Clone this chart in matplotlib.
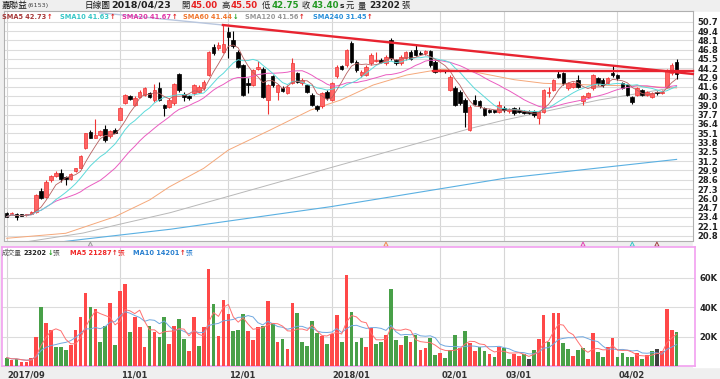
import matplotlib
matplotlib.use("Agg")
import matplotlib.pyplot as plt
from matplotlib.patches import Rectangle
import pandas as pd

plt.rcParams['font.family'] = ['DejaVu Sans', 'Noto Sans CJK TC']

# ---- daily candles 2017/09 .. 2018/04/23 (嘉聯益 6153) ----
opens = [23.9, 23.85, 23.8, 23.75, 23.7, 23.8, 24.1, 27.0, 26.2, 28.5,
         29.1, 29.55, 28.95, 28.7, 29.8, 30.3, 33.0, 35.3, 34.5, 34.9,
         35.65, 34.7, 35.6, 37.0, 39.4, 40.3, 39.1, 40.2, 40.5, 40.7,
         39.7, 41.4, 39.05, 38.8, 39.3, 43.4, 40.6, 40.3, 40.7, 40.9,
         41.4, 43.3, 47.1, 47.0, 46.5, 49.2, 48.1, 46.5, 44.65, 42.2,
         41.85, 44.05, 44.05, 39.8, 43.1, 40.9, 41.5, 40.8, 42.1, 43.5,
         42.1, 41.85, 40.5, 38.9, 38.9, 40.9, 39.8, 43.1, 44.5, 44.6,
         47.7, 45.1, 43.25, 43.25, 44.9, 45.2, 45.4, 44.9, 48.1, 45.35,
         44.9, 45.6, 46.5, 46.8, 46.37, 46.3, 46.65, 45.1, 43.9, 43.9,
         41.15, 41.5, 40.9, 39.8, 35.6, 39.75, 39.66, 38.6, 38.35, 38.3,
         38.1, 38.7, 38.2, 38.6, 38.35, 38.2, 38.2, 38.2, 37.2, 38.1,
         40.7, 41.15, 43.4, 43.5, 41.4, 41.6, 42.55, 39.66, 40.2, 41.4,
         42.8, 42.6, 42.2, 43.5, 43.25, 42.1, 41.85, 40.2, 40.45, 41.15,
         40.45, 40.2, 40.9, 40.7, 41.6, 43.5, 45.0]
highs = [24.05, 24.1, 23.9, 23.85, 23.85, 24.2, 26.6, 27.4, 28.5, 29.3,
         29.85, 30.1, 29.1, 29.5, 30.3, 32.0, 35.2, 35.5, 37.1, 35.5,
         36.2, 35.5, 35.8, 38.8, 40.6, 40.5, 40.3, 41.1, 41.6, 40.9,
         42.0, 42.3, 39.2, 40.0, 42.1, 43.6, 40.9, 40.5, 42.0, 41.8,
         42.5, 46.6, 47.6, 47.9, 50.2, 49.9, 49.4, 46.7, 44.8, 42.8,
         44.1, 45.2, 44.3, 42.0, 43.3, 42.0, 41.7, 41.8, 45.6, 43.7,
         42.8, 42.0, 40.7, 39.1, 40.9, 41.1, 42.3, 44.6, 44.7, 46.9,
         48.0, 45.3, 43.9, 44.6, 46.3, 46.5, 45.6, 46.0, 48.4, 45.5,
         46.0, 46.6, 46.7, 47.4, 46.6, 46.8, 46.8, 45.3, 44.1, 44.0,
         43.2, 41.7, 41.1, 40.0, 39.0, 40.5, 39.8, 38.8, 38.5, 38.4,
         39.6, 38.9, 38.6, 38.8, 38.8, 38.3, 38.3, 38.3, 38.2, 41.3,
         41.6, 42.7, 44.0, 43.7, 42.3, 42.3, 43.2, 40.5, 40.9, 43.4,
         43.0, 42.8, 43.0, 44.6, 43.4, 42.3, 42.0, 40.3, 41.6, 41.3,
         41.0, 40.9, 41.0, 41.1, 44.1, 44.9, 45.5]
lows = [23.35, 23.7, 23.0, 23.5, 23.6, 23.75, 24.0, 25.9, 26.0, 28.3,
        29.0, 28.35, 27.9, 28.6, 29.7, 30.2, 32.9, 34.4, 34.4, 34.7,
        33.9, 34.5, 35.1, 36.9, 39.2, 39.7, 38.9, 40.0, 40.3, 40.0,
        39.5, 39.6, 37.5, 38.6, 39.1, 40.9, 39.6, 39.8, 40.5, 40.7,
        41.2, 43.1, 46.1, 46.8, 46.3, 45.6, 47.0, 44.2, 40.3, 40.7,
        41.7, 43.9, 40.0, 37.8, 41.6, 39.8, 40.9, 40.6, 42.0, 42.1,
        41.9, 40.7, 38.9, 38.2, 38.7, 39.8, 39.6, 42.9, 43.9, 44.4,
        44.9, 43.7, 43.0, 43.1, 44.7, 45.0, 44.9, 44.7, 45.4, 44.7,
        44.7, 45.4, 45.3, 45.9, 46.0, 46.1, 44.4, 43.5, 43.7, 43.6,
        41.0, 38.9, 39.1, 36.0, 35.4, 39.0, 38.7, 37.5, 37.9, 37.9,
        37.9, 38.1, 38.0, 37.7, 37.9, 37.8, 37.8, 37.4, 36.4, 38.0,
        40.2, 41.0, 42.8, 41.9, 41.2, 41.4, 41.4, 39.05, 40.0, 41.2,
        41.9, 41.6, 42.0, 43.0, 42.6, 41.3, 40.3, 39.2, 40.3, 40.3,
        40.3, 40.0, 40.5, 40.6, 41.4, 43.2, 42.75]
closes = [23.45, 23.9, 23.45, 23.6, 23.75, 24.1, 26.5, 26.0, 28.3, 29.1,
          29.6, 28.7, 28.7, 29.4, 30.2, 31.9, 35.1, 34.5, 34.85, 35.4,
          34.1, 35.4, 35.2, 38.7, 40.5, 39.9, 40.1, 40.9, 41.4, 40.2,
          41.2, 39.8, 38.6, 39.8, 42.0, 41.2, 40.15, 40.0, 41.85, 41.6,
          42.3, 46.5, 46.3, 47.4, 47.6, 48.6, 47.3, 44.4, 40.5, 41.85,
          43.95, 44.4, 40.2, 41.85, 41.85, 41.85, 41.06, 41.6, 44.9, 42.3,
          42.5, 40.9, 39.06, 38.45, 40.7, 40.0, 42.1, 44.4, 44.1, 46.75,
          45.1, 43.95, 43.7, 44.4, 46.05, 45.4, 45.1, 45.8, 45.6, 44.9,
          45.8, 46.4, 45.45, 46.05, 46.2, 46.65, 44.65, 43.7, 43.95, 43.85,
          43.0, 39.05, 39.3, 38.1, 38.8, 39.2, 38.9, 37.65, 38.03, 38.1,
          39.05, 38.3, 38.45, 37.9, 38.07, 37.98, 37.98, 37.6, 38.1, 41.15,
          40.9, 42.55, 43.0, 42.1, 42.1, 42.1, 41.6, 40.3, 40.7, 43.25,
          42.1, 41.85, 42.8, 43.25, 42.8, 41.5, 40.45, 39.5, 41.4, 40.45,
          40.9, 40.7, 40.7, 40.9, 43.95, 44.65, 43.4]

# volume in thousands of 張, and its direction (1 up, -1 down, 0 flat)
volumes = [5.7, 4.1, 4.8, 2.5, 2.5, 5.7, 19.5, 39.9, 29.5, 24.5,
           12.9, 12.9, 10.7, 14.5, 24.5, 33.6, 49.4, 39.9, 38.8, 16.3,
           27.2, 43.1, 14.5, 50.8, 56.0, 23.4, 33.3, 26.3, 12.9, 27.0,
           23.4, 20.0, 33.1, 14.7, 27.4, 31.8, 18.4, 10.2, 33.3, 13.8,
           26.3, 66.0, 42.2, 20.4, 45.1, 35.4, 23.8, 24.3, 35.4, 23.8,
           17.5, 26.5, 27.4, 44.0, 29.5, 16.3, 18.4, 11.3, 43.1, 36.3,
           16.6, 13.6, 30.6, 22.2, 20.6, 15.0, 21.5, 34.9, 16.6, 62.1,
           36.7, 16.6, 18.8, 12.7, 25.9, 15.2, 16.3, 21.1, 52.2, 17.7,
           14.3, 20.4, 16.3, 20.9, 10.9, 12.2, 19.3, 7.5, 8.6, 5.4,
           10.9, 21.3, 12.5, 23.8, 15.4, 10.0, 13.2, 10.4, 8.2, 5.9,
           13.2, 12.0, 4.8, 8.2, 7.0, 7.9, 4.8, 11.1, 18.1, 34.7,
           16.3, 36.1, 36.3, 15.6, 11.6, 6.8, 10.9, 12.5, 4.8, 22.2,
           9.5, 5.9, 12.9, 19.1, 6.4, 8.6, 6.4, 6.4, 8.6, 4.8,
           7.5, 10.0, 11.6, 10.2, 38.8, 24.5, 23.2]
vol_dir = [-1, 1, -1, 1, 1, 1, 1, -1, 1, 1,
           -1, -1, -1, 1, 1, 1, 1, -1, 1, -1,
           -1, 1, -1, 1, 1, -1, 1, 1, 1, -1,
           1, -1, -1, 1, 1, -1, -1, 1, 1, -1,
           1, 1, -1, 1, 1, 1, -1, -1, -1, 1,
           1, 1, -1, 1, -1, 1, -1, 1, 1, -1,
           -1, -1, -1, -1, 1, -1, 1, 1, -1, 1,
           -1, -1, -1, 1, 1, -1, -1, 1, -1, -1,
           1, -1, 1, -1, 1, 1, -1, -1, 1, -1,
           -1, -1, 1, -1, 1, 1, -1, -1, 1, -1,
           1, -1, -1, 1, 1, -1, 0, -1, 1, 1,
           -1, 1, 1, -1, -1, 1, -1, -1, 1, 1,
           -1, -1, 1, 1, -1, -1, -1, -1, 1, -1,
           1, -1, 0, 1, 1, 1, -1]

# long moving averages (candle index, price)
sma60_i = [0, 12, 22, 29, 33, 40, 45, 53.5, 61.7, 67.8, 74.4, 81.2, 88, 94.7, 103, 109, 119, 129, 136]
sma60_v = [20.42, 21.12, 23.44, 25.77, 27.6, 30.2, 32.76, 35.56, 38.35, 39.75, 41.85, 43.25, 44.05, 43.71, 42.6, 42.09, 41.85, 41.7, 41.44]
sma120_i = [0, 15.5, 22.3, 33.2, 53.5, 73.9, 94.3, 101.1, 120.2, 136]
sma120_v = [19.5, 21.15, 22.28, 24.0, 27.93, 31.86, 35.81, 36.96, 39.75, 41.56]
sma240_i = [0, 15.5, 33.2, 65.8, 101.1, 136]
sma240_v = [19.0, 20.28, 21.68, 24.84, 28.81, 31.45]

# drawn trend lines
trend_i = [43.9, 139.3]
trend_v = [50.24, 43.39]
trend_ext_i = [18.9, 43.9]
trend_ext_v = [51.96, 50.24]
hline_i = [86.5, 139.3]
hline_v = [43.85, 43.85]

# cross markers under the price panel
mark_i = [17, 77, 117, 127, 132]
mark_c = ['#999999', '#F08850', '#E040B0', '#30C8C8', '#A04040']

month_pos = [0, 23, 45, 66, 88, 101, 124]
month_labels = ['2017/09', '11/01', '12/01', '2018/01', '02/01', '03/01', '04/02']
price_ticks = [20.8, 22.1, 23.4, 24.7, 26.0, 27.3, 28.6, 29.9, 31.2, 32.5, 33.8, 35.1,
               36.4, 37.7, 39.0, 40.3, 41.6, 42.9, 44.2, 45.5, 46.8, 48.1, 49.4, 50.7]
vol_ticks = [20, 40, 60]

sma_names = ['SMA5', 'SMA10', 'SMA20', 'SMA60', 'SMA120', 'SMA240']
sma_last = ['42.73', '41.63', '41.67', '41.44', '41.56', '31.45']
sma_up = [True, True, True, False, True, True]
sma_colors = ['#A83A3A', '#38C8C8', '#E038A8', '#F07830', '#999999', '#2A90DA']

W, H = 720, 379
fig = plt.figure(figsize=(7.2, 3.79), dpi=100, facecolor='#EFEFEF')


def px_axes(x0, y0, x1, y1):
    return fig.add_axes([x0 / W, 1 - y1 / H, (x1 - x0) / W, (y1 - y0) / H])


fig.patches.append(Rectangle((693 / W, 1 - 367 / H), 27 / W, 355 / H,
                             transform=fig.transFigure, color='white', zorder=-1))

ax = px_axes(4, 11, 693, 240.5)
axv = px_axes(2, 247.3, 695, 366)
ax.set_xlim(-0.54, 139.33)
axv.set_xlim(-0.95, 139.73)
ax.set_ylim(20.11, 52.2)
axv.set_ylim(0, 80.7)

n = len(closes)
idx = list(range(n))

for a in (ax, axv):
    a.set_facecolor('white')
    for p in month_pos:
        a.axvline(p, color='#D6D6D6', lw=0.8, zorder=0)
for t in price_ticks:
    ax.axhline(t, color='#DCDCDC', lw=0.8, zorder=0)
for t in vol_ticks:
    axv.axhline(t, color='#DCDCDC', lw=0.8, zorder=0)

# candles
for i in idx:
    o, h, l, c = opens[i], highs[i], lows[i], closes[i]
    up = c >= o
    col = '#F03434' if up else '#000000'
    fc = '#FF6464' if up else '#000000'
    ax.vlines(i, l, h, color=col, lw=0.8, zorder=3)
    body = max(abs(c - o), 0.06)
    ax.bar(i, body, bottom=min(o, c), width=0.72, color=fc, edgecolor=col,
           lw=0.5, zorder=4)

cs = pd.Series(closes)
ax.plot(idx, cs.rolling(20, min_periods=1).mean(), color='#EA5CC0', lw=0.7, zorder=5)
ax.plot(idx, cs.rolling(10, min_periods=1).mean(), color='#5CDADA', lw=0.7, zorder=5)
ax.plot(idx, cs.rolling(5, min_periods=1).mean(), color='#B86060', lw=0.6, zorder=5)
ax.plot(sma60_i, sma60_v, color='#F5A87A', lw=0.7, zorder=2)
ax.plot(sma120_i, sma120_v, color='#B8B8B8', lw=0.7, zorder=2)
ax.plot(sma240_i, sma240_v, color='#5AB0E2', lw=0.8, zorder=2)

ax.plot(trend_ext_i, trend_ext_v, color='#B8C6DE', lw=1.0, zorder=6)
ax.plot(trend_i, trend_v, color='#E82430', lw=1.7, zorder=6, clip_on=False)
ax.plot(hline_i, hline_v, color='#E82430', lw=1.7, zorder=6, clip_on=False)

ax.scatter(mark_i, [-0.016] * len(mark_i), marker='^', s=9, facecolors='none',
           edgecolors=mark_c, linewidths=0.7, transform=ax.get_xaxis_transform(),
           clip_on=False, zorder=7)

# volume
vcol = ['#FF4848' if d > 0 else ('#48A048' if d < 0 else '#404040') for d in vol_dir]
axv.bar(idx, volumes, width=0.75, color=vcol, zorder=3)
vs = pd.Series(volumes)
axv.plot(idx, vs.rolling(10, min_periods=1).mean(), color='#70A8E0', lw=0.7, zorder=4)
axv.plot(idx, vs.rolling(5, min_periods=1).mean(), color='#FF7070', lw=0.7, zorder=4)

ax.set_yticks(price_ticks)
ax.set_yticklabels(['%.1f' % t for t in price_ticks])
axv.set_yticks(vol_ticks)
axv.set_yticklabels(['%dK' % t for t in vol_ticks])
for a in (ax, axv):
    a.yaxis.tick_right()
    a.tick_params(axis='y', length=0, pad=3, labelsize=6.0, labelcolor='#222222')
    a.set_xticks([])
    for lab in a.get_yticklabels():
        lab.set_fontweight('bold')
for s in ax.spines.values():
    s.set_color('#B0B0B0')
    s.set_linewidth(0.8)
for s in axv.spines.values():
    s.set_color('#F2A0F0')
    s.set_linewidth(1.2)

for p, lab in zip(month_pos, month_labels):
    axv.text(p + 0.2, -0.075, lab, transform=axv.get_xaxis_transform(), ha='left',
             va='center', fontsize=6.0, fontweight='bold', color='#333333')

rend = fig.canvas.get_renderer()


def put_row(x, y, pieces):
    for s, col, size, wt, gap in pieces:
        t = fig.text(x / W, 1 - y / H, s, color=col, fontsize=size, fontweight=wt,
                     ha='left', va='center')
        x += t.get_window_extent(renderer=rend).width + gap


# header
put_row(2, 5.5, [('嘉聯益', '#111111', 6.2, 'normal', 0), ('(6153)', '#444444', 4.6, 'normal', 0)])
put_row(85, 5.5, [('日線圖', '#111111', 6.2, 'normal', 0)])
put_row(111, 5.5, [('2018/04/23', '#222222', 6.8, 'bold', 0)])
hdr = [('開', opens[-1], '#E82020'), ('高', highs[-1], '#E82020'),
       ('低', lows[-1], '#229922'), ('收', closes[-1], '#229922')]
for x0, (k, v, col) in zip([181, 221, 262, 302], hdr):
    put_row(x0, 5.5, [(k, '#222222', 6.0, 'normal', 1.5), ('%.2f' % v, col, 6.2, 'bold', 0)])
put_row(340, 5.5, [('s', '#222222', 5.4, 'bold', 1.5), ('元', '#222222', 6.0, 'normal', 3),
                   ('量', '#222222', 6.0, 'normal', 3),
                   ('23202', '#222222', 6.4, 'bold', 2),
                   ('張', '#222222', 6.0, 'normal', 0)])

# moving average legend
for x0, nm, v, upf, col in zip([2, 60, 122, 183, 245, 313], sma_names, sma_last, sma_up, sma_colors):
    put_row(x0, 16.8, [(nm + ' ' + v, col, 4.8, 'bold', 0.5),
                       ('↑' if upf else '↓', '#E02020' if upf else '#22A022', 4.8, 'bold', 0)])

# volume legend
put_row(2, 252.6, [('成交量', '#555555', 4.8, 'normal', 2), ('23202', '#222222', 4.8, 'bold', 0.5),
                   ('↓', '#22A022', 4.8, 'bold', 0), ('張', '#555555', 4.8, 'normal', 0)])
put_row(70, 252.6, [('MA5 21287', '#F02828', 4.8, 'bold', 0.5), ('↑', '#E02020', 4.8, 'bold', 0),
                    ('張', '#F02828', 4.8, 'normal', 0)])
put_row(133, 252.6, [('MA10 14201', '#2A80D0', 4.8, 'bold', 0.5), ('↑', '#E02020', 4.8, 'bold', 0),
                     ('張', '#2A80D0', 4.8, 'normal', 0)])

fig.savefig('out.png', dpi=100, facecolor=fig.get_facecolor())
